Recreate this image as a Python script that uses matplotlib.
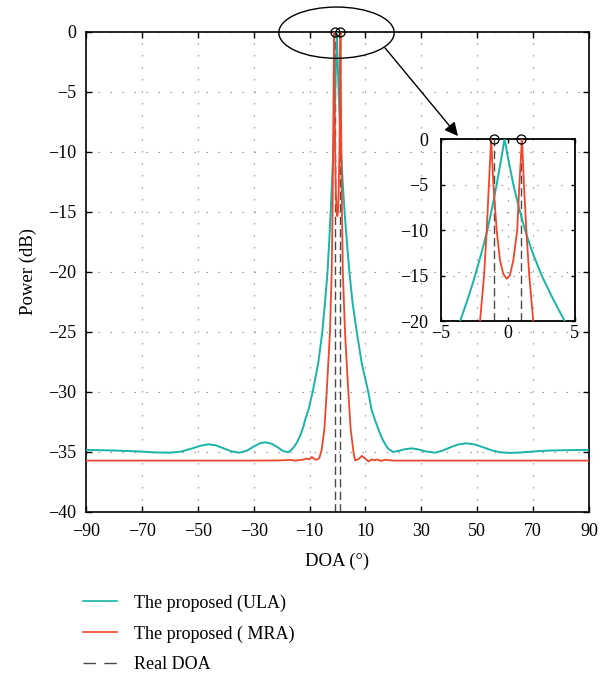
import matplotlib
matplotlib.use("Agg")
import matplotlib.pyplot as plt
from matplotlib.patches import Ellipse
from matplotlib.lines import Line2D

plt.rcParams["font.family"] = ["Liberation Serif", "DejaVu Serif"]
plt.rcParams["axes.unicode_minus"] = True

# Spatial spectrum of the proposed method, uniform linear array (ULA)
ula_doa = [-90, -85, -80, -75, -70, -65, -60, -56, -52, -49, -46.2, -43.5, -40.5, -38,
           -35.1, -32.5, -30, -27.8, -25.7, -23.5, -21.5, -19.5, -17.6, -16.4, -15.5,
           -14.5, -13.3, -12.2, -11.6, -10.3, -8.9, -6.9, -5.44, -4.5, -3.57, -2.98,
           -2.45, -1.97, -1.53, -1.17, -0.84, -0.5, -0.36, -0.26, -0.15, -0.05, 0.41,
           0.82, 1.28, 1.85, 2.53, 3.35, 4.25, 5.4, 6.9, 8.66, 11.0, 12.2, 13.4, 14.6,
           16.0, 17.3, 18.2, 20.0, 22.0, 24.3, 26.6, 28.8, 31.5, 34.9, 37.5, 40.5, 43.3,
           46.2, 49.2, 52.0, 55.0, 58.0, 61.7, 65.0, 68.0, 72.0, 76.0, 80.0, 85.0, 90.0]
ula_db = [-34.83, -34.85, -34.88, -34.92, -34.97, -35.04, -35.06, -34.97, -34.70, -34.48,
          -34.36, -34.45, -34.72, -34.95, -35.06, -34.90, -34.55, -34.28, -34.19, -34.32,
          -34.60, -34.92, -35.03, -34.80, -34.55, -34.20, -33.60, -32.90, -32.33, -31.40,
          -30.00, -27.60, -25.00, -22.60, -20.00, -17.50, -15.00, -12.50, -10.00, -7.50,
          -5.00, -2.20, -1.00, 0.00, -0.70, -1.60, -5.00, -7.50, -10.00, -12.50, -15.00,
          -17.50, -20.00, -22.60, -25.00, -27.60, -30.00, -31.50, -32.33, -33.10, -33.90,
          -34.45, -34.75, -35.00, -34.90, -34.76, -34.70, -34.78, -34.95, -35.06, -34.90,
          -34.60, -34.37, -34.28, -34.38, -34.60, -34.85, -35.02, -35.08, -35.05, -35.00,
          -34.93, -34.88, -34.86, -34.84, -34.83]

# Spatial spectrum of the proposed method, minimum redundancy array (MRA)
mra_doa = [-90, -60, -40, -30, -20, -17, -15, -13, -12, -11, -10.2, -9.2, -8.2, -7.4,
           -6.5, -5.66, -4.7, -3.87, -2.7, -2.08, -1.78, -1.58, -1.42, -1.25, -1.08,
           -0.84, -0.59, -0.35, -0.09, 0.15, 0.41, 0.7, 0.86, 1.06, 1.2, 1.38, 1.6, 1.9,
           2.68, 3.87, 4.7, 5.5, 5.9, 6.3, 7.5, 8.7, 9.9, 11.1, 12.2, 13.2, 14.3, 15.5,
           17, 20, 30, 40, 60, 90]
mra_db = [-35.72, -35.72, -35.72, -35.72, -35.70, -35.66, -35.72, -35.66, -35.62, -35.55,
          -35.62, -35.42, -35.60, -35.65, -35.50, -34.80, -33.10, -30.00, -25.00, -20.00,
          -15.00, -10.00, -5.00, 0.00, -5.00, -10.00, -13.30, -14.80, -15.35, -15.00,
          -13.30, -10.00, -5.00, 0.00, -5.00, -10.00, -15.00, -20.00, -25.00, -30.00,
          -33.10, -34.60, -35.30, -35.70, -35.60, -35.33, -35.55, -35.80, -35.62, -35.70,
          -35.62, -35.75, -35.65, -35.72, -35.72, -35.72, -35.72, -35.72]

# True directions of arrival and detected peaks
real_doa = [-1.0, 1.0]
peak_db = [0.0, 0.0]

xticks = [-90, -70, -50, -30, -10, 10, 30, 50, 70, 90]
yticks = [0, -5, -10, -15, -20, -25, -30, -35, -40]
inset_xticks = [-5, 0, 5]
inset_yticks = [0, -5, -10, -15, -20]

labels = ["The proposed (ULA)", "The proposed ( MRA)", "Real DOA"]

C_ULA = "#19b4a8"
C_MRA = "#f0452b"
C_DOA = "#4a4a4a"
GRID = dict(color="#8a8a8a", linestyle=(0, (1.2, 9.6)), linewidth=0.8)
FS = 13

fig = plt.figure(figsize=(6.11, 6.74), dpi=100)
ax = fig.add_axes([0.1408, 0.2404, 0.8232, 0.7122])


def draw_curves(a):
    a.plot(ula_doa, ula_db, color=C_ULA, lw=1.4, zorder=3)
    a.plot(mra_doa, mra_db, color=C_MRA, lw=1.3, zorder=3)
    for d in real_doa:
        a.axvline(d, color=C_DOA, lw=1.0, linestyle=(0, (6, 3)), zorder=2)
    a.plot(real_doa, peak_db, linestyle="none", marker="o", ms=6.5, mfc="none",
           mec="k", mew=0.9, clip_on=False, zorder=5)


draw_curves(ax)
ax.set_xlim(-90, 90)
ax.set_ylim(-40, 0)
ax.set_xticks(xticks)
ax.set_yticks(yticks)
ax.grid(True, **GRID)
ax.tick_params(direction="in", top=True, right=True, length=4, width=1.0,
               labelsize=FS, pad=7)
ax.tick_params(axis="x", pad=8)
for s in ax.spines.values():
    s.set_linewidth(1.2)
ax.set_xlabel("DOA (°)", fontsize=FS + 0.5, labelpad=9)
ax.set_ylabel("Power (dB)", fontsize=FS + 0.5, labelpad=8)

# Zoom region marker and arrow pointing to the enlarged view
ax.add_patch(Ellipse((-0.36, -0.06), 41.3, 4.27, fill=False, ec="k", lw=1.0,
                     clip_on=False, zorder=6))
ax.annotate("", xy=(43.1, -8.67), xytext=(17.0, -1.33),
            arrowprops=dict(arrowstyle="-|>", color="k", lw=1.0, mutation_scale=20,
                            shrinkA=0, shrinkB=0),
            annotation_clip=False, zorder=6)

# Enlarged view around the two sources
axin = fig.add_axes([0.7218, 0.5237, 0.2188, 0.270])
axin.patch.set_alpha(0)
draw_curves(axin)
axin.set_xlim(-5, 5)
axin.set_ylim(-20, 0)
axin.set_xticks(inset_xticks)
axin.set_yticks(inset_yticks)
axin.grid(True, **GRID)
axin.tick_params(direction="in", top=True, right=True, length=3, width=1.0,
                 labelsize=FS)
axin.tick_params(axis="y", pad=9)
axin.tick_params(axis="x", pad=3)
for s in axin.spines.values():
    s.set_linewidth(1.3)

handles = [Line2D([], [], color=C_ULA, lw=1.2),
           Line2D([], [], color=C_MRA, lw=1.2),
           Line2D([], [], color=C_DOA, lw=1.0, linestyle=(0, (9, 6)))]
fig.legend(handles, labels, loc="upper left", bbox_to_anchor=(0.1358, 0.118),
           frameon=False, fontsize=FS, handlelength=1.9, handletextpad=0.9,
           labelspacing=0.75, borderpad=0, borderaxespad=0)

fig.savefig("out.png", dpi=100)
